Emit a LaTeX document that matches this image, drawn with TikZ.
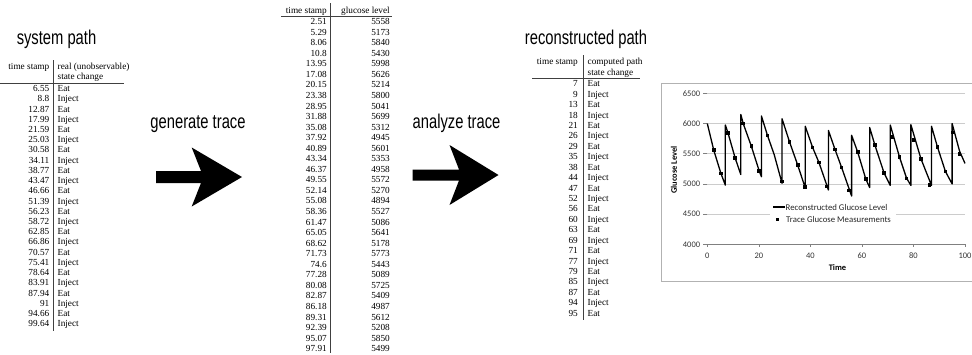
\documentclass[tikz,border=0pt]{standalone}
\usepackage{fontspec}
\setmainfont{Liberation Serif}
\newfontfamily\headfont[FakeStretch=0.74]{Liberation Sans}
\newfontfamily\chartfont{Carlito}
\begin{document}
\begin{tikzpicture}[x=1bp,y=-1bp,
  tabtxt/.style={inner sep=0pt, font=\fontsize{9.3}{10}\selectfont},
  numr/.style={tabtxt, anchor=base east},
  txtl/.style={tabtxt, anchor=base west},
  heading/.style={inner sep=0pt, anchor=base, font=\headfont\fontsize{20}{22}\selectfont},
  tabrule/.style={line width=0.6bp, black!75},
  bigarrow/.style={fill=black},
  gridln/.style={draw=black!20, line width=0.7bp},
  curve/.style={line width=1.3bp, black, line join=round},
  mk/.style={rectangle, fill=black, minimum size=3.6bp, inner sep=0pt},
  ticklab/.style={font=\chartfont\fontsize{8.5}{10}\selectfont, text=black!80, inner sep=0pt},
  axtitle/.style={font=\chartfont\bfseries\fontsize{8.5}{10}\selectfont, inner sep=0pt},
  legtxt/.style={font=\chartfont\fontsize{8.8}{10}\selectfont, text=black!85, inner sep=0pt, anchor=west},
]
\useasboundingbox (0,0) rectangle (972,354);

% ---------- system path ----------
\node[heading] (systitle) at (56.5,44) {system path};
\node[numr] (sh1) at (49.5,69.3) {time stamp};
\node[txtl] (sh2) at (57.5,69.3) {real (unobservable)};
\node[txtl] (sh3) at (57.5,79.8) {state change};
\coordinate (srl) at (0,83); \coordinate (srr) at (124,83);
\draw[tabrule] (srl) -- (srr);
\coordinate (svt) at (53.5,60); \coordinate (svb) at (53.5,331);
\draw[tabrule] (svt) -- (svb);
\foreach \a/\b [count=\i from 0] in {6.55/Eat,8.8/Inject,12.87/Eat,17.99/Inject,21.59/Eat,25.03/Inject,30.58/Eat,34.11/Inject,38.77/Eat,43.47/Inject,46.66/Eat,51.39/Inject,56.23/Eat,58.72/Inject,62.85/Eat,66.86/Inject,70.57/Eat,75.41/Inject,78.64/Eat,83.91/Inject,87.94/Eat,91/Inject,94.66/Eat,99.64/Inject}{
  \node[numr] (st\i) at (49.5,{91.6+\i*10.22}) {\a};
  \node[txtl] (ss\i) at (57.5,{91.6+\i*10.22}) {\b};
}

% ---------- arrows ----------
\node[heading] (gen) at (198,128) {generate trace};
\fill[bigarrow] (156,171) -- (201,171) -- (191.7,147.5) -- (242,177) -- (191.7,206.5) -- (201,183) -- (156,183) -- cycle;
\node[heading] (ana) at (456.5,128) {analyze trace};
\fill[bigarrow] (412.7,169.5) -- (459,169.5) -- (449.5,145) -- (498.5,175) -- (449.5,205) -- (459,180.5) -- (412.7,180.5) -- cycle;

% ---------- trace ----------
\node[numr] (th1) at (327,13.3) {time stamp};
\node[numr] (th2) at (390,13.3) {glucose level};
\coordinate (trl) at (281,16); \coordinate (trr) at (392,16);
\draw[tabrule] (trl) -- (trr);
\coordinate (tvt) at (330.5,3); \coordinate (tvb) at (330.5,353);
\draw[tabrule] (tvt) -- (tvb);
\foreach \a/\b [count=\i from 0] in {2.51/5558,5.29/5173,8.06/5840,10.8/5430,13.95/5998,17.08/5626,20.15/5214,23.38/5800,28.95/5041,31.88/5699,35.08/5312,37.92/4945,40.89/5601,43.34/5353,46.37/4958,49.55/5572,52.14/5270,55.08/4894,58.36/5527,61.47/5086,65.05/5641,68.62/5178,71.73/5773,74.6/5443,77.28/5089,80.08/5725,82.87/5409,86.18/4987,89.31/5612,92.39/5208,95.07/5850,97.91/5499}{
  \node[numr] (tt\i) at (327,{24.6+\i*10.55}) {\a};
  \node[numr] (tg\i) at (390,{24.6+\i*10.55}) {\b};
}

% ---------- reconstructed path ----------
\node[heading] (rectitle) at (586,44) {reconstructed path};
\node[numr] (rh1) at (578,64.8) {time stamp};
\node[txtl] (rh2) at (587.5,64.8) {computed path};
\node[txtl] (rh3) at (587.5,75.3) {state change};
\coordinate (rrl) at (532,78.5); \coordinate (rrr) at (640,78.5);
\draw[tabrule] (rrl) -- (rrr);
\coordinate (rvt) at (583,55); \coordinate (rvb) at (583,320);
\draw[tabrule] (rvt) -- (rvb);
\foreach \a/\b [count=\i from 0] in {7/Eat,9/Inject,13/Eat,18/Inject,21/Eat,26/Inject,29/Eat,35/Inject,38/Eat,44/Inject,47/Eat,52/Inject,56/Eat,60/Inject,63/Eat,69/Inject,71/Eat,77/Inject,79/Eat,85/Inject,87/Eat,94/Inject,95/Eat}{
  \node[numr] (rt\i) at (578,{86.8+\i*10.43}) {\a};
  \node[txtl] (rs\i) at (587.5,{86.8+\i*10.43}) {\b};
}

% ---------- chart ----------
\draw[black!30, line width=0.7bp] (972,83) -- (661,83) -- (661,281) -- (972,281);
\begin{scope}[shift={(707.3,485.9)}, xscale=2.577, yscale=-0.0604]
  \foreach \v in {4500,5000,5500,6000,6500}{
    \draw[gridln] (0,\v) -- (100,\v);
  }
  \foreach \v in {4000,4500,5000,5500,6000,6500}{
    \draw[black!50, line width=0.6bp] (0,\v) -- (-1.6,\v);
    \node[ticklab, anchor=east] at (0,\v) [xshift=-7bp] {\v};
  }
  \draw[black!50, line width=0.7bp] (0,4000) -- (100,4000);
  \foreach \t in {0,20,40,60,80,100}{
    \draw[black!50, line width=0.6bp] (\t,4000) -- (\t,3950);
    \node[ticklab, anchor=north] at (\t,4000) [yshift=-8bp] {\t};
  }
  \draw[curve] (0,6000) -- (2.51,5558) -- (5.29,5173) -- (7,4980) -- (7,5975) -- (8.06,5840) -- (10.8,5430) -- (13,5155) -- (13,6150) -- (13.95,5998) -- (17.08,5626) -- (20.15,5214) -- (21,5120) -- (21,6125) -- (23.38,5800) -- (26,5480) -- (29,5010) -- (29,6080) -- (31.88,5699) -- (35.08,5312) -- (38,4935) -- (38,5955) -- (40.89,5601) -- (43.34,5353) -- (47,4900) -- (47,5885) -- (49.55,5572) -- (52.14,5270) -- (56,4800) -- (56,5805) -- (58.36,5527) -- (61.47,5086) -- (63,4940) -- (63,5935) -- (65.05,5641) -- (68.62,5178) -- (71,4975) -- (71,5975) -- (74.6,5443) -- (77.28,5100) -- (79,4975) -- (79,5980) -- (82.87,5420) -- (87,4975) -- (87,5955) -- (89.31,5612) -- (92.39,5208) -- (95,5000) -- (95,6000) -- (97.91,5540) -- (100,5340);
  \foreach \a/\b [count=\i] in {2.51/5558,5.29/5173,8.06/5840,10.8/5430,13.95/5998,17.08/5626,20.15/5214,23.38/5800,28.95/5041,31.88/5699,35.08/5312,37.92/4945,40.89/5601,43.34/5353,46.37/4958,49.55/5572,52.14/5270,55.08/4894,58.36/5527,61.47/5086,65.05/5641,68.62/5178,71.73/5773,74.6/5443,77.28/5089,80.08/5725,82.87/5409,86.18/4987,89.31/5612,92.39/5208,95.07/5850,97.91/5499}{
    \node[mk] (tm\i) at (\a,\b) {};
  }
\end{scope}
\node[axtitle, rotate=90] (ylab) at (674,170) {Glucose Level};
\node[axtitle] (xlab) at (837.5,268) {Time};
\fill[white] (770,200) rectangle (896,226);
\coordinate (lg1) at (773,207); \coordinate (lg2) at (785,207);
\draw[curve] (lg1) -- (lg2);
\node[legtxt] (leg1) at (785.5,207) {Reconstructed Glucose Level};
\node[mk] (legmk) at (777.5,219.5) {};
\node[legtxt] (leg2) at (786,219.5) {Trace Glucose Measurements};
\end{tikzpicture}
\end{document}
